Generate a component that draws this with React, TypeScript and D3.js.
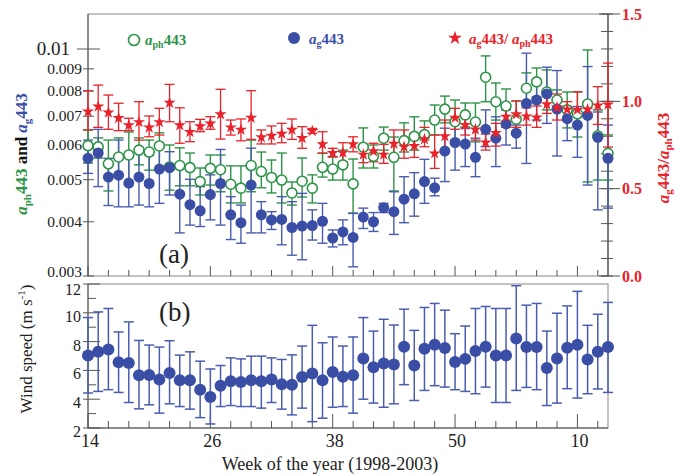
import React from 'react';
import * as d3 from 'd3';

const weeks = [14,15,16,17,18,19,20,21,22,23,24,25,26,27,28,29,30,31,32,33,34,35,36,37,38,39,40,41,42,43,44,45,46,47,48,49,50,51,52,53,54,55,56,57,58,59,60,61,62,63,64,65];
const xTickVals = [14,26,38,50,62];
const xTickLabels = ['14','26','38','50','10'];
const leftTicks = [0.003,0.004,0.005,0.006,0.007,0.008,0.009,0.01];
const leftTickLabels = ['0.003','0.004','0.005','0.006','0.007','0.008','0.009','0.01'];
const rightMajor = [0,0.5,1.0,1.5];
const rightLabels = ['0.0','0.5','1.0','1.5'];
const windTicks = [2,4,6,8,10,12];

const aph = [0.00599,0.00595,0.00544,0.00564,0.00570,0.00585,0.00579,0.00598,0.00535,0.00539,0.00533,0.00495,0.00531,0.00527,0.00488,0.00478,0.00539,0.00522,0.00506,0.00499,0.00466,0.00496,0.00478,0.00534,0.00529,0.00541,0.00489,0.00594,0.00566,0.00623,0.00563,0.00615,0.00629,0.00635,0.00686,0.00727,0.00680,0.00705,0.00679,0.00861,0.00756,0.00739,0.00689,0.00812,0.00840,0.00796,0.00763,0.00724,0.00709,0.00747,0.00631,0.00575];
const aphHi = [0.00651,0.00624,0.00617,0.00624,0.00644,0.00624,0.00617,0.00641,0.00601,0.00592,0.00576,0.00532,0.00570,0.00570,0.00538,0.00538,0.00617,0.00579,0.00555,0.00576,0.00494,0.00561,0.00513,0.00576,0.00564,0.00585,0.00558,0.00658,0.00601,0.00661,0.00627,0.00676,0.00698,0.00683,0.00743,0.00779,0.00763,0.00751,0.00751,0.00964,0.00835,0.00809,0.00759,0.00881,0.00904,0.00895,0.00805,0.00796,0.00796,0.00995,0.00724,0.00634];
const aphLo = [0.00546,0.00561,0.00471,0.00507,0.00486,0.00541,0.00526,0.00526,0.00473,0.00484,0.00484,0.00461,0.00486,0.00469,0.00442,0.00442,0.00469,0.00479,0.00466,0.00442,0.00437,0.00456,0.00442,0.00507,0.00499,0.00499,0.00419,0.00532,0.00532,0.00585,0.00471,0.00579,0.00585,0.00617,0.00634,0.00676,0.00617,0.00661,0.00611,0.00756,0.00686,0.00679,0.00644,0.00751,0.00775,0.00724,0.00724,0.00658,0.00627,0.00494,0.00499,0.00499];

const ag = [0.00560,0.00576,0.00507,0.00512,0.00491,0.00507,0.00490,0.00529,0.00533,0.00463,0.00438,0.00424,0.00462,0.00490,0.00415,0.00398,0.00486,0.00415,0.00404,0.00405,0.00388,0.00391,0.00392,0.00401,0.00367,0.00379,0.00368,0.00410,0.00400,0.00431,0.00422,0.00451,0.00464,0.00495,0.00479,0.00582,0.00609,0.00604,0.00563,0.00653,0.00623,0.00672,0.00640,0.00749,0.00763,0.00788,0.00727,0.00691,0.00668,0.00703,0.00626,0.00560];
const agHi = [0.00617,0.00653,0.00560,0.00617,0.00565,0.00585,0.00570,0.00598,0.00580,0.00536,0.00501,0.00482,0.00513,0.00587,0.00457,0.00437,0.00591,0.00445,0.00422,0.00457,0.00445,0.00465,0.00426,0.00441,0.00383,0.00404,0.00418,0.00430,0.00420,0.00441,0.00469,0.00508,0.00519,0.00557,0.00504,0.00657,0.00674,0.00657,0.00623,0.00724,0.00698,0.00724,0.00668,0.00978,0.00834,0.00908,0.00892,0.00737,0.00737,0.00911,0.00716,0.00668];
const agLo = [0.00517,0.00482,0.00436,0.00433,0.00433,0.00437,0.00433,0.00441,0.00461,0.00377,0.00393,0.00390,0.00404,0.00393,0.00364,0.00357,0.00377,0.00377,0.00384,0.00354,0.00335,0.00327,0.00363,0.00357,0.00350,0.00354,0.00315,0.00386,0.00380,0.00420,0.00374,0.00398,0.00412,0.00441,0.00459,0.00495,0.00526,0.00536,0.00508,0.00596,0.00536,0.00601,0.00591,0.00545,0.00686,0.00674,0.00567,0.00615,0.00563,0.00486,0.00426,0.00430];

const ratio = [0.942,0.970,0.936,0.904,0.863,0.881,0.850,0.881,0.992,0.863,0.824,0.857,0.873,0.926,0.851,0.837,0.906,0.794,0.803,0.815,0.837,0.790,0.830,0.754,0.704,0.706,0.754,0.695,0.714,0.695,0.757,0.740,0.745,0.783,0.702,0.800,0.906,0.864,0.839,0.764,0.819,0.912,0.926,0.914,0.908,0.983,0.965,0.953,0.952,0.954,0.976,0.982];
const ratioHi = [1.061,1.093,1.036,0.989,0.903,0.998,0.916,0.960,1.097,0.963,0.883,0.897,0.912,1.069,0.893,0.899,1.061,0.836,0.859,0.874,0.899,0.855,0.845,0.826,0.731,0.763,0.797,0.740,0.760,0.754,0.836,0.836,0.813,0.851,0.807,0.893,0.960,0.922,0.887,0.813,0.874,0.969,1.002,0.963,0.973,1.036,1.042,0.998,1.055,0.998,1.084,1.219];
const ratioLo = [0.836,0.851,0.840,0.832,0.832,0.778,0.797,0.807,0.883,0.760,0.769,0.826,0.840,0.784,0.807,0.774,0.782,0.756,0.756,0.763,0.782,0.731,0.817,0.702,0.683,0.654,0.711,0.649,0.654,0.645,0.683,0.674,0.679,0.740,0.616,0.721,0.840,0.807,0.778,0.721,0.744,0.851,0.851,0.864,0.851,0.931,0.893,0.893,0.859,0.912,0.868,0.738];

const wind = [7.03,7.29,7.45,6.57,6.52,5.66,5.68,5.36,5.82,5.31,5.31,4.66,4.15,4.94,5.24,5.19,5.31,5.24,5.36,5.03,5.01,5.54,5.78,5.31,5.89,5.56,5.66,6.83,6.22,6.48,6.41,7.64,6.34,7.50,7.78,7.55,6.59,6.80,7.34,7.64,7.03,7.03,8.22,7.62,7.62,6.17,6.83,7.57,7.78,6.76,7.29,7.62];
const windHi = [9.67,10.06,10.30,8.67,9.37,8.08,7.76,7.62,8.06,7.06,7.29,6.64,6.10,6.34,6.87,6.80,6.99,6.99,6.87,6.76,7.08,7.69,9.13,7.92,8.32,7.69,8.32,9.67,8.73,9.55,9.15,10.25,8.78,10.37,10.65,10.18,8.55,9.08,10.30,10.44,10.30,10.30,11.88,10.53,10.65,8.73,9.97,10.48,11.49,9.13,9.90,10.72];
const windLo = [4.43,4.54,4.66,4.47,3.77,3.33,3.61,3.03,3.68,3.49,3.31,2.72,2.28,3.49,3.56,3.49,3.49,3.38,3.77,3.31,2.91,3.38,2.44,2.68,3.44,3.49,3.03,4.00,3.73,3.44,3.68,5.01,3.91,4.61,4.94,4.84,4.66,4.54,4.38,4.84,3.77,3.77,4.61,4.82,4.66,3.56,3.73,4.73,4.08,4.38,4.71,4.47];

const GREEN = '#2b9446';
const BLUE = '#3a4ea6';
const BLUEBAR = '#4a5cb0';
const RED = '#e8232b';
const FRAME = '#9a9a9a';
const AXIS = '#555';

function ErrBars({ xs, lo, hi, y, color, cap = 5, width = 1.4 }) {
  return (
    <g stroke={color} strokeWidth={width} fill="none">
      {xs.map((xv, i) => (
        <g key={i}>
          <line x1={xv} x2={xv} y1={y(lo[i])} y2={y(hi[i])} />
          <line x1={xv - cap} x2={xv + cap} y1={y(lo[i])} y2={y(lo[i])} />
          <line x1={xv - cap} x2={xv + cap} y1={y(hi[i])} y2={y(hi[i])} />
        </g>
      ))}
    </g>
  );
}

export default function App() {
  const x = d3.scaleLinear().domain([14, 65]).range([88, 608]);
  const yTop = d3.scaleLog().domain([0.003, 0.01204]).range([276, 14]);
  const yRatio = d3.scaleLinear().domain([0, 1.5]).range([276, 14]);
  const yWind = d3.scaleLinear().domain([2, 12]).range([428, 284]);
  const xs = weeks.map((w) => x(w));
  const star = d3.symbol().type(d3.symbolStar).size(46)();
  const starLegend = d3.symbol().type(d3.symbolStar).size(60)();
  const xTicks = d3.range(14, 65, 2);
  const rightMinor = d3.range(0, 1.51, 0.1);
  const windMinor = d3.range(3, 12, 2);

  return (
    <svg width={676} height={476} style={{ position: 'absolute', left: 0, top: 0, background: '#fff' }}
      fontFamily="'Liberation Serif', 'Times New Roman', serif">
      {/* ===== Top panel ===== */}
      <rect x={88} y={14} width={520} height={262} fill="none" stroke={FRAME} strokeWidth={1.2} />
      <line x1={88} x2={88} y1={14} y2={276} stroke={AXIS} strokeWidth={1} />
      <line x1={608} x2={608} y1={14} y2={276} stroke={AXIS} strokeWidth={1.3} />
      {leftTicks.map((t, i) => {
        const big = t === 0.01;
        const last = t === 0.003;
        return (
          <g key={i}>
            <line x1={big ? 77 : 83} x2={big ? 100 : 94} y1={yTop(t)} y2={yTop(t)} stroke={AXIS} strokeWidth={1} />
            <text x={big ? 70 : 82} y={yTop(t) + (big ? 6 : last ? 0.5 : 5)} textAnchor="end" fontSize={big ? 19 : 15.5} fill="#222">
              {leftTickLabels[i]}
            </text>
          </g>
        );
      })}
      {rightMinor.map((t, i) => (
        <line key={i} x1={601} x2={613} y1={yRatio(t)} y2={yRatio(t)} stroke={AXIS} strokeWidth={1} />
      ))}
      {rightMajor.map((t, i) => (
        <g key={i}>
          <line x1={599} x2={620} y1={yRatio(t)} y2={yRatio(t)} stroke={AXIS} strokeWidth={1} />
          <text x={622} y={yRatio(t) + 5.5} fontSize={16} fontWeight="bold" fill={RED}>{rightLabels[i]}</text>
        </g>
      ))}
      {xTicks.map((t, i) => {
        const major = xTickVals.includes(t);
        return <line key={i} x1={x(t)} x2={x(t)} y1={276} y2={276 - (major ? 10 : 6)} stroke={AXIS} strokeWidth={1} />;
      })}

      <ErrBars xs={xs} lo={aphLo} hi={aphHi} y={yTop} color={GREEN} />
      <ErrBars xs={xs} lo={agLo} hi={agHi} y={yTop} color={BLUEBAR} />
      <ErrBars xs={xs} lo={ratioLo} hi={ratioHi} y={yRatio} color={RED} width={1.3} />
      {aph.map((v, i) => (
        <circle key={'g' + i} cx={xs[i]} cy={yTop(v)} r={5} fill="#fff" stroke={GREEN} strokeWidth={1.6} />
      ))}
      {ag.map((v, i) => (
        <circle key={'b' + i} cx={xs[i]} cy={yTop(v)} r={5.5} fill={BLUE} />
      ))}
      {ratio.map((v, i) => (
        <path key={'r' + i} d={star} transform={`translate(${xs[i]},${yRatio(v)})`} fill={RED} />
      ))}

      <circle cx={134} cy={40} r={5.5} fill="#fff" stroke={GREEN} strokeWidth={1.6} />
      <text x={145} y={45} fontSize={15} fontWeight="bold" fill={GREEN}>
        <tspan fontStyle="italic">a</tspan><tspan fontSize={10} dy={3}>ph</tspan><tspan dy={-3}>443</tspan>
      </text>
      <circle cx={294} cy={38} r={6} fill={BLUE} />
      <text x={309} y={44} fontSize={15} fontWeight="bold" fill={BLUE}>
        <tspan fontStyle="italic">a</tspan><tspan fontSize={10} dy={3}>g</tspan><tspan dy={-3}>443</tspan>
      </text>
      <path d={starLegend} transform="translate(455,38)" fill={RED} />
      <text x={469} y={44} fontSize={15} fontWeight="bold" fill={RED}>
        <tspan fontStyle="italic">a</tspan><tspan fontSize={10} dy={3}>g</tspan><tspan dy={-3}>443/ </tspan>
        <tspan fontStyle="italic">a</tspan><tspan fontSize={10} dy={3}>ph</tspan><tspan dy={-3}>443</tspan>
      </text>

      <text x={159} y={263} fontSize={27} fill="#222">(a)</text>

      <text transform="translate(27,154) rotate(-90)" textAnchor="middle" fontSize={17} fontWeight="bold">
        <tspan fill={GREEN} fontStyle="italic">a</tspan><tspan fill={GREEN} fontSize={11} dy={4}>ph</tspan><tspan fill={GREEN} dy={-4}>443</tspan>
        <tspan fill="#111"> and </tspan>
        <tspan fill={BLUE} fontStyle="italic">a</tspan><tspan fill={BLUE} fontSize={11} dy={4}>g</tspan><tspan fill={BLUE} dy={-4}>443</tspan>
      </text>
      <text transform="translate(669,158) rotate(-90)" textAnchor="middle" fontSize={17} fontWeight="bold" fill={RED}>
        <tspan fontStyle="italic">a</tspan><tspan fontSize={11} dy={3}>g</tspan><tspan dy={-3}>443/</tspan>
        <tspan fontStyle="italic">a</tspan><tspan fontSize={11} dy={3}>ph</tspan><tspan dy={-3}>443</tspan>
      </text>

      {/* ===== Bottom panel ===== */}
      <rect x={88} y={284} width={520} height={144} fill="none" stroke={FRAME} strokeWidth={1.2} />
      <line x1={88} x2={88} y1={284} y2={428} stroke={AXIS} strokeWidth={1} />
      <line x1={88} x2={608} y1={428} y2={428} stroke={AXIS} strokeWidth={1} />
      {windTicks.map((t, i) => (
        <g key={i}>
          <line x1={83} x2={100} y1={yWind(t)} y2={yWind(t)} stroke={AXIS} strokeWidth={1} />
          <text x={81} y={yWind(t) + (t === 12 ? 11 : 9)} textAnchor="end" fontSize={16} fill="#222">{t}</text>
        </g>
      ))}
      {windMinor.map((t, i) => (
        <line key={i} x1={88} x2={96} y1={yWind(t)} y2={yWind(t)} stroke={AXIS} strokeWidth={1} />
      ))}
      {xTicks.map((t, i) => {
        const major = xTickVals.includes(t);
        return <line key={i} x1={x(t)} x2={x(t)} y1={428} y2={428 - (major ? 14 : 7)} stroke={AXIS} strokeWidth={1} />;
      })}
      {xTickVals.map((t, i) => (
        <text key={i} x={x(t) + 2} y={447} textAnchor="middle" fontSize={18} fill="#222">{xTickLabels[i]}</text>
      ))}
      <text x={330} y={470} textAnchor="middle" fontSize={18} fill="#222">Week of the year (1998-2003)</text>

      <ErrBars xs={xs} lo={windLo} hi={windHi} y={yWind} color={BLUEBAR} cap={5} width={1.5} />
      {wind.map((v, i) => (
        <circle key={'w' + i} cx={xs[i]} cy={yWind(v)} r={6} fill={BLUE} />
      ))}
      <text x={159} y={321} fontSize={27} fill="#222">(b)</text>

      <text transform="translate(32,349) rotate(-90)" textAnchor="middle" fontSize={17} fill="#222">
        Wind speed (m s<tspan fontSize={11} dy={-7}>-1</tspan><tspan dy={7}>)</tspan>
      </text>
    </svg>
  );
}
